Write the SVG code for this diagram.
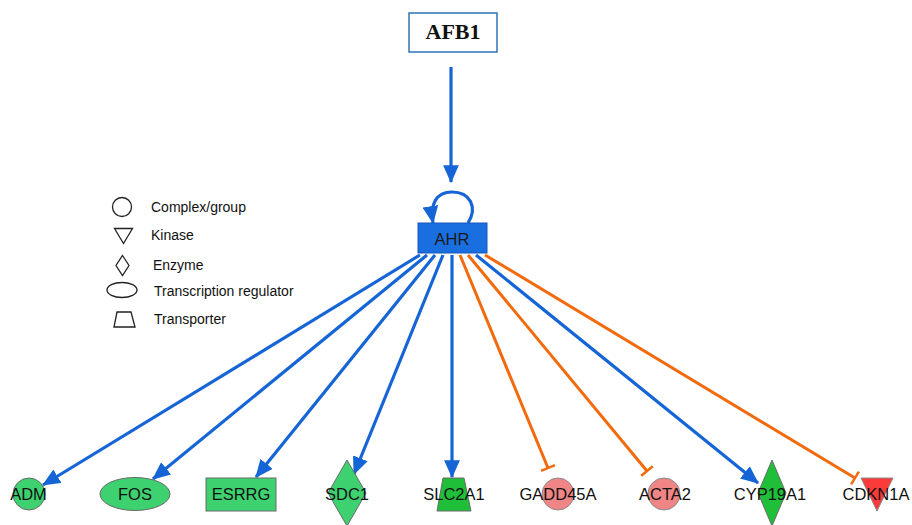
<svg xmlns="http://www.w3.org/2000/svg" width="912" height="525" viewBox="0 0 912 525">
<style>
.lbl{font-family:"Liberation Sans",Arial,sans-serif;font-size:16.5px;fill:#111;text-anchor:middle}
.leg{font-family:"Liberation Sans",Arial,sans-serif;font-size:14px;fill:#111}
.legs{fill:#fff;stroke:#222;stroke-width:1.3}
.act{fill:none;stroke:#1565d6;stroke-width:3.2;marker-end:url(#arr)}
.inh{fill:none;stroke:#f26a0c;stroke-width:3;marker-end:url(#tbar)}
.grn{fill:#3dd170;stroke:#6a6a6a;stroke-width:1}
.grn2{fill:#1fbf3a;stroke:#6a6a6a;stroke-width:1}
.pink{fill:#f08585;stroke:#8a8a8a;stroke-width:1}
</style>
<defs>
<marker id="arr" markerUnits="userSpaceOnUse" markerWidth="18" markerHeight="16" viewBox="0 0 16 14" refX="15" refY="7" orient="auto">
<path d="M0,0 L16,7 L0,14 z" fill="#1565d6"/>
</marker>
<marker id="tbar" markerUnits="userSpaceOnUse" markerWidth="6" markerHeight="18" viewBox="-3 -9 6 18" refX="0" refY="0" orient="auto">
<path d="M0,-7.5 L0,7.5" stroke="#f26a0c" stroke-width="2.5"/>
</marker>
</defs>

<g id="connectors">
<path class="act" d="M451,67 L451,182"/>
<path class="act" d="M468,223 C478,207 470,192 452,192 C436,192 430,204 433,223"/>
<path class="act" d="M420,255 L43,485"/>
<path class="act" d="M427,255 L153,479"/>
<path class="act" d="M435,255 L256,477"/>
<path class="act" d="M443,255 L354,474"/>
<path class="act" d="M452,255 L452,477"/>
<path class="inh" d="M460,255 L548,468"/>
<path class="inh" d="M468,255 L647,471"/>
<path class="act" d="M476,255 L758,483"/>
<path class="inh" d="M485,255 L855,478"/>
</g>

<g id="AFB1">
<rect x="409" y="13" width="88" height="39" fill="#fff" stroke="#2e75b6" stroke-width="1.5"/>
<text x="453" y="39" font-family="Liberation Serif,'Times New Roman',serif" font-size="22" font-weight="bold" text-anchor="middle" fill="#111">AFB1</text>
</g>

<g id="AHR">
<rect x="418" y="223" width="69" height="30" fill="#1a6fe0" stroke="#1456b8" stroke-width="1"/>
<text x="452" y="245" font-family="Liberation Sans,Arial,sans-serif" font-size="16.5" text-anchor="middle" fill="#1a1a1a">AHR</text>
</g>

<g id="legend">
<circle class="legs" cx="122" cy="207" r="9.5"/>
<text class="leg" x="151" y="212">Complex/group</text>
<path class="legs" d="M114.5,228.5 L132.5,228.5 L123.5,243.5 z"/>
<text class="leg" x="151" y="240">Kinase</text>
<path class="legs" d="M122.5,255.5 L129,265.5 L122.5,275.5 L116,265.5 z"/>
<text class="leg" x="153" y="270">Enzyme</text>
<ellipse class="legs" cx="122" cy="290" rx="15" ry="7.5"/>
<text class="leg" x="154" y="296">Transcription regulator</text>
<path class="legs" d="M117,312 L131,312 L135,327 L114,327 z"/>
<text class="leg" x="154" y="324">Transporter</text>
</g>

<g id="ADM">
<circle class="grn" cx="29" cy="494" r="16"/>
<text class="lbl" x="28.5" y="500">ADM</text>
</g>
<g id="FOS">
<ellipse class="grn" cx="135" cy="494" rx="35" ry="16.5"/>
<text class="lbl" x="135" y="500">FOS</text>
</g>
<g id="ESRRG">
<rect class="grn" x="206" y="478" width="70" height="33"/>
<text class="lbl" x="241" y="500">ESRRG</text>
</g>
<g id="SDC1">
<path class="grn" d="M347,460 L366,493 L347,526 L328,493 z"/>
<text class="lbl" x="347" y="500">SDC1</text>
</g>
<g id="SLC2A1">
<path class="grn2" d="M443,478 L464,478 L471,511 L437,511 z"/>
<text class="lbl" x="454" y="500">SLC2A1</text>
</g>
<g id="GADD45A">
<circle class="pink" cx="558" cy="494" r="16"/>
<text class="lbl" x="558" y="500">GADD45A</text>
</g>
<g id="ACTA2">
<circle class="pink" cx="664" cy="494" r="16"/>
<text class="lbl" x="665" y="500">ACTA2</text>
</g>
<g id="CYP19A1">
<path class="grn2" d="M772,460 L786,493 L772,526 L758,493 z"/>
<text class="lbl" x="770" y="500">CYP19A1</text>
</g>
<g id="CDKN1A">
<path d="M861,478 L893,478 L877,511 z" fill="#fb3a3a" stroke="#8a8a8a" stroke-width="1"/>
<text class="lbl" x="876" y="500">CDKN1A</text>
</g>
</svg>
